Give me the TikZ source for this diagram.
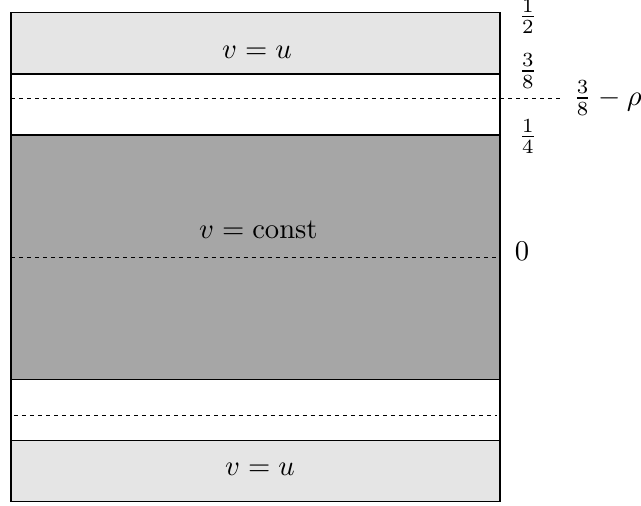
\documentclass[tikz,border=0pt]{standalone}
\begin{document}
\begin{tikzpicture}[x=6cm,y=6cm,
  lightband/.style={fill=black!10},
  darkband/.style={fill=black!35},
  bandline/.style={draw=black,line width=0.4pt},
  guide/.style={draw=black,line width=0.3pt,dash pattern=on 1.4pt off 1.4pt},
  tick/.style={inner sep=0pt}]
\useasboundingbox (-0.0225,-0.5065) rectangle (1.2883,0.5262);
% bands
\fill[lightband] (0,0.375) rectangle (1,0.5);
\fill[darkband] (0,-0.25) rectangle (1,0.25);
\fill[lightband] (0,-0.5) rectangle (1,-0.375);
% coordinates
\coordinate (tl) at (0,0.5);
\coordinate (br) at (1,-0.5);
\coordinate (a1) at (0,0.375);  \coordinate (a2) at (1,0.375);
\coordinate (b1) at (0,0.25);   \coordinate (b2) at (1,0.25);
\coordinate (c1) at (0,-0.25);  \coordinate (c2) at (1,-0.25);
\coordinate (d1) at (0,-0.375); \coordinate (d2) at (1,-0.375);
\coordinate (r1) at (0,0.3258); \coordinate (r2) at (1.129,0.3258);
\coordinate (z1) at (0,0);      \coordinate (z2) at (1,0);
\coordinate (s1) at (0.006,-0.324); \coordinate (s2) at (0.994,-0.324);
% lines
\draw[bandline] (a1) -- (a2);
\draw[bandline] (b1) -- (b2);
\draw[bandline] (c1) -- (c2);
\draw[bandline] (d1) -- (d2);
\draw[guide] (r1) -- (r2);
\draw[guide] (z1) -- (z2);
\draw[guide] (s1) -- (s2);
\draw[bandline] (tl) rectangle (br);
% texts
\node (top) at (0.503,0.419) {$v=u$};
\node (mid) at (0.506,0.0575) {$v=\mathrm{const}$};
\node (bot) at (0.509,-0.433) {$v=u$};
% labels
\node[tick] (lhalf) at (1.057,0.492) {$\frac{1}{2}$};
\node[tick] (lthree) at (1.057,0.381) {$\frac{3}{8}$};
\node[tick] (lquart) at (1.057,0.2466) {$\frac{1}{4}$};
\node[tick] (lzero) at (1.045,0.0115) {$0$};
\node[tick,anchor=west] (lrho) at (1.149,0.3258) {$\frac{3}{8}-\rho$};
\end{tikzpicture}
\end{document}
